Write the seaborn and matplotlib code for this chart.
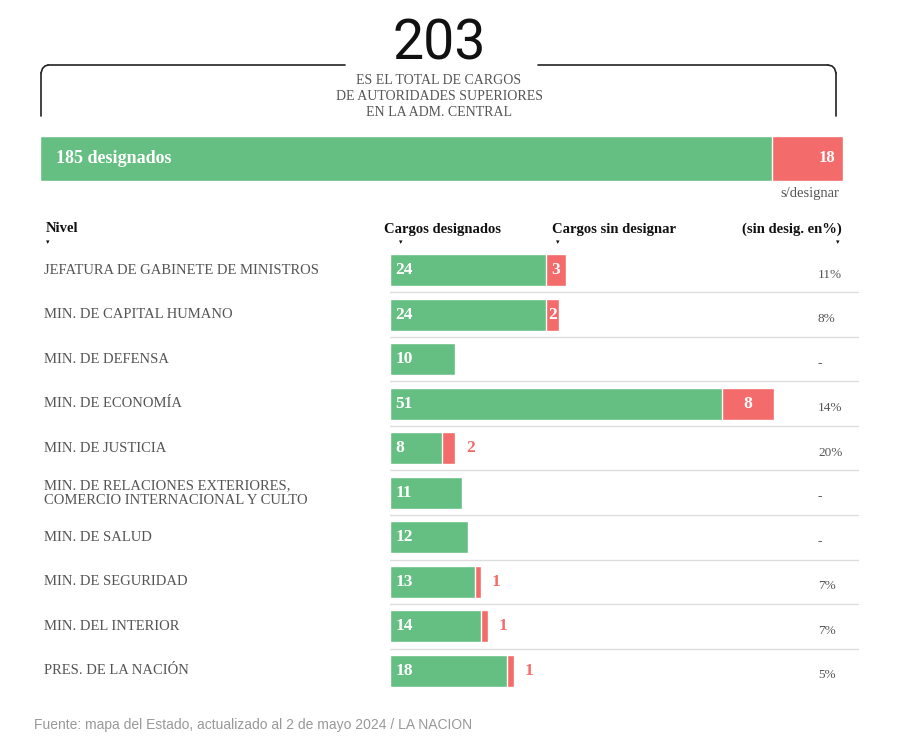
import matplotlib
matplotlib.use("Agg")
import matplotlib.pyplot as plt
import seaborn as sns
import pandas as pd
from matplotlib.lines import Line2D

# data
niveles = ["JEFATURA DE GABINETE DE MINISTROS", "MIN. DE CAPITAL HUMANO", "MIN. DE DEFENSA",
           "MIN. DE ECONOMÍA", "MIN. DE JUSTICIA",
           "MIN. DE RELACIONES EXTERIORES,\nCOMERCIO INTERNACIONAL Y CULTO",
           "MIN. DE SALUD", "MIN. DE SEGURIDAD", "MIN. DEL INTERIOR", "PRES. DE LA NACIÓN"]
designados = [24, 24, 10, 51, 8, 11, 12, 13, 14, 18]
sin_designar = [3, 2, 0, 8, 2, 0, 0, 1, 1, 1]
porcentaje = ["11%", "8%", "-", "14%", "20%", "-", "-", "7%", "7%", "5%"]
total_designados = 185
total_sin = 18

GREEN = "#66bf82"
RED = "#f46b6b"
GREY = "#555555"
SERIF = ["Liberation Serif", "DejaVu Serif"]

sns.set_theme(style="white")
plt.rcParams['font.family'] = SERIF

W, H = 908, 746
fig = plt.figure(figsize=(W / 100, H / 100), dpi=100)

def fx(px):
    return px / W

def fy(py):
    return 1 - py / H

# header
fig.text(fx(439), fy(44), "203", ha="center", va="center", fontsize=40,
         family=["Roboto", "DejaVu Sans"], color="#111111")
fig.text(fx(439), fy(96), "ES EL TOTAL DE CARGOS\nDE AUTORIDADES SUPERIORES\nEN LA ADM. CENTRAL",
         ha="center", va="center", fontsize=10, color=GREY, linespacing=1.3)
for xs in ([fx(345), fx(48)], [fx(538), fx(828)]):
    fig.add_artist(Line2D(xs, [fy(65), fy(65)], color="#222222", lw=1.2))
fig.add_artist(Line2D([fx(41), fx(41)], [fy(73), fy(116)], color="#222222", lw=1.2))
fig.add_artist(Line2D([fx(836), fx(836)], [fy(73), fy(116)], color="#222222", lw=1.2))
fig.add_artist(Line2D([fx(41), fx(42.5), fx(45), fx(48)], [fy(73), fy(68.5), fy(66), fy(65)], color="#222222", lw=1.2))
fig.add_artist(Line2D([fx(836), fx(834.5), fx(832), fx(828)], [fy(73), fy(68.5), fy(66), fy(65)], color="#222222", lw=1.2))

# total bar
ax_top = fig.add_axes([fx(40), fy(181), fx(843) - fx(40), fy(136) - fy(181)])
top_df = pd.DataFrame({"g": [""], "d": [total_designados + total_sin]})
sns.barplot(data=top_df, x="d", y="g", color=RED, width=1, ax=ax_top, saturation=1)
top_df["d"] = [total_designados]
sns.barplot(data=top_df, x="d", y="g", color=GREEN, width=1, ax=ax_top, saturation=1)
ax_top.set_xlim(0, total_designados + total_sin)
ax_top.axis("off")
ax_top.text(4, 0, f"{total_designados} designados", color="white", fontweight="bold",
            fontsize=13, va="center")
ax_top.text(total_designados + total_sin - 2, 0, str(total_sin), color="white",
            fontweight="bold", fontsize=12, va="center", ha="right")
fig.text(fx(839), fy(193), "s/designar", ha="right", va="center", fontsize=10.5, color=GREY)

# column headers
for x, txt, ha in [(46, "Nivel", "left"), (384, "Cargos designados", "left"),
                   (552, "Cargos sin designar", "left"), (842, "(sin desig. en%)", "right")]:
    fig.text(fx(x), fy(229), txt, ha=ha, va="center", fontsize=10.5, fontweight="bold", color="#111111")
for x in [48, 401, 558, 838]:
    fig.text(fx(x), fy(242), "▾", ha="center", va="center", fontsize=5, color="#111111",
             family=["DejaVu Sans"])

# rows
scale = 6.5
ax = fig.add_axes([fx(390), fy(693), fx(860) - fx(390), fy(248) - fy(693)])
df = pd.DataFrame({"nivel": niveles, "designados": designados,
                   "total": [a + b for a, b in zip(designados, sin_designar)]})
sns.barplot(data=df, x="total", y="nivel", color=RED, width=0.72, ax=ax, saturation=1)
sns.barplot(data=df, x="designados", y="nivel", color=GREEN, width=0.72, ax=ax, saturation=1)
ax.set_xlim(0, 470 / scale)
ax.set_ylim(9.5, -0.5)
ax.axis("off")

trans = matplotlib.transforms.blended_transform_factory(fig.transFigure, ax.transData)
for i, (n, d, s, p) in enumerate(zip(niveles, designados, sin_designar, porcentaje)):
    ax.text(fx(44), i, n, transform=trans, va="center", ha="left", fontsize=10.5,
            color=GREY, linespacing=1.2)
    ax.text(0.8, i, str(d), va="center", ha="left", color="white", fontweight="bold", fontsize=12.5)
    if s >= 2 and d > 10:
        ax.text(d + s / 2, i, str(s), va="center", ha="center", color="white",
                fontweight="bold", fontsize=12.5)
    elif s > 0:
        ax.text(d + s + 1.7, i, str(s), va="center", ha="left", color=RED,
                fontweight="bold", fontsize=12.5)
    ax.text(fx(818), i + 0.1, p, transform=trans, va="center", ha="left",
            fontsize=9.5, color=GREY)
    if i < len(niveles) - 1:
        ax.add_artist(Line2D([fx(40), fx(858)], [i + 0.5, i + 0.5], transform=trans,
                             color="#dddddd", lw=1))

fig.text(fx(34), fy(725), "Fuente: mapa del Estado, actualizado al 2 de mayo 2024 / LA NACION",
         ha="left", va="center", fontsize=10, color="#999999", family=["Liberation Sans", "DejaVu Sans"])

fig.savefig("out.png", dpi=100)
